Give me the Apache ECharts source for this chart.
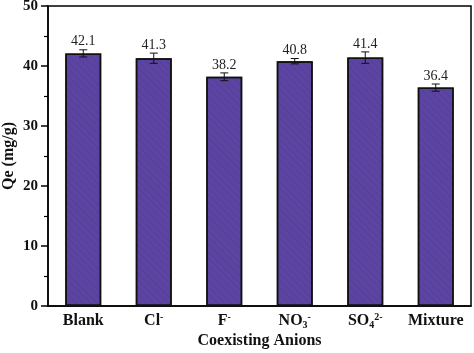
<!DOCTYPE html>
<html>
<head>
<meta charset="UTF-8">
<title>Coexisting Anions</title>
<script src="https://cdn.jsdelivr.net/npm/echarts@6/dist/echarts.min.js"></script>
<style>
	html, body { margin: 0; padding: 0; background: #fff; }
	#chart { width: 474px; height: 353px; }
</style>
</head>
<body>
<div id="chart"></div>
<script type="text/javascript">
	// categories (rich text for sub/superscripts)
	var anions = ['{b|Blank}', '{b|Cl}{sup|-}', '{b|F}{sup|-}', '{b|NO}{sub|3}{sup|-}', '{b|SO}{sub|4}{sup|2-}', '{b|Mixture}'];
	var qe = [42.1, 41.3, 38.2, 40.8, 41.4, 36.4];
	var qeErr = [0.6, 0.85, 0.65, 0.45, 0.95, 0.6];
	var yTicks = [0, 10, 20, 30, 40, 50];

	var serif = 'Liberation Serif';
	var chart = echarts.init(document.getElementById('chart'));

	var errData = [];
	for (var i = 0; i < qe.length; i++) {
		errData.push([i, qe[i], qeErr[i]]);
	}

	function renderErr(params, api) {
		var x = api.value(0);
		var v = api.value(1);
		var e = api.value(2);
		var top = api.coord([x, v + e]);
		var bot = api.coord([x, v - e]);
		var cap = 4;
		var st = { stroke: '#111', lineWidth: 1 };
		return {
			type: 'group',
			children: [
				{ type: 'line', shape: { x1: top[0], y1: top[1], x2: bot[0], y2: bot[1] }, style: st },
				{ type: 'line', shape: { x1: top[0] - cap, y1: top[1], x2: top[0] + cap, y2: top[1] }, style: st },
				{ type: 'line', shape: { x1: bot[0] - cap, y1: bot[1], x2: bot[0] + cap, y2: bot[1] }, style: st },
				{
					type: 'text',
					x: top[0], y: top[1] - 1,
					style: {
						text: v.toFixed(1),
						fill: '#222',
						font: '14px "' + serif + '"',
						align: 'center',
						verticalAlign: 'bottom'
					}
				}
			]
		};
	}

	var op = {
		animation: false,
		grid: {
			left: 48, right: 3, top: 6, bottom: 47,
			outerBoundsMode: 'none',
			containLabel: false,
			show: true, borderColor: '#000', borderWidth: 1.5
		},
		xAxis: {
			type: 'category',
			data: anions,
			name: 'Coexisting Anions',
			nameLocation: 'middle',
			nameGap: 27,
			nameMoveOverlap: false,
			nameTextStyle: { fontFamily: serif, fontWeight: 'bold', fontSize: 16, color: '#111' },
			axisLine: { lineStyle: { color: '#000', width: 1.5 } },
			axisTick: { show: false },
			axisLabel: {
				interval: 0,
				margin: 6,
				rich: {
					b: { fontFamily: serif, fontWeight: 'bold', fontSize: 16, color: '#111', lineHeight: 18 },
					sup: { fontFamily: serif, fontWeight: 'bold', fontSize: 10, color: '#111', verticalAlign: 'top', lineHeight: 9 },
					sub: { fontFamily: serif, fontWeight: 'bold', fontSize: 10, color: '#111', verticalAlign: 'bottom', lineHeight: 9 }
				}
			}
		},
		yAxis: {
			type: 'value',
			min: yTicks[0],
			max: yTicks[yTicks.length - 1],
			interval: 10,
			name: 'Qe (mg/g)',
			nameLocation: 'middle',
			nameGap: 31,
			nameMoveOverlap: false,
			nameTextStyle: { fontFamily: serif, fontWeight: 'bold', fontSize: 16, color: '#111' },
			axisLine: { show: true, lineStyle: { color: '#000', width: 1.5 } },
			axisTick: { show: true, inside: false, length: 7, lineStyle: { color: '#000', width: 1.5 } },
			minorTick: { show: true, splitNumber: 2, length: 4, lineStyle: { color: '#000', width: 1.2 } },
			splitLine: { show: false },
			axisLabel: { fontFamily: serif, fontWeight: 'bold', fontSize: 15, color: '#111', margin: 10 }
		},
		series: [{
			type: 'bar',
			data: qe,
			barWidth: '51%',
			itemStyle: {
				color: '#5c45a2',
				borderColor: '#111',
				borderWidth: 1.5,
				decal: {
					symbol: 'rect',
					symbolSize: 1,
					dashArrayX: [1, 0],
					dashArrayY: [1, 4],
					rotation: Math.PI / 4,
					color: 'rgba(40,20,80,0.12)'
				}
			}
		}, {
			type: 'custom',
			data: errData,
			renderItem: renderErr,
			z: 5
		}]
	};
	chart.setOption(op);
</script>
</body>
</html>
